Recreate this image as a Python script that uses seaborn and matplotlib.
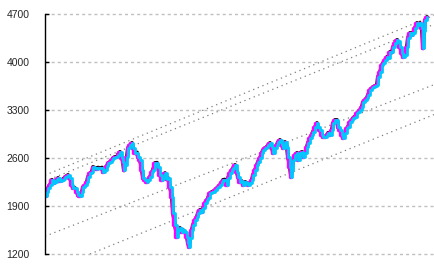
import numpy as np
import pandas as pd
import matplotlib
matplotlib.use("Agg")
import matplotlib.pyplot as plt
import seaborn as sns

# time position (chart units) and index level
t_pos = [1, 2, 3, 5, 7, 9, 10, 12, 13, 15, 17, 19, 20, 22, 23, 25, 27, 28, 30, 32,
         33, 35, 37, 38, 40, 42, 43, 45, 47, 48, 50, 52, 53, 55, 57, 58, 60, 62, 63, 65,
         67, 68, 70, 72, 73, 75, 77, 78, 79, 80, 82, 83, 85, 87, 88, 90, 92, 93, 95, 97,
         98, 100, 102, 103, 105, 107, 108, 110, 112, 113, 115, 117, 118, 120, 122, 123, 125, 127, 128, 130,
         132, 133, 135, 137, 138, 140, 142, 143, 144, 145, 147, 148, 150, 152, 153, 155, 157, 158, 160, 162,
         163, 165, 167, 168, 170, 172, 173, 175, 177, 178, 180, 182, 183, 185, 187, 188, 190, 192, 193, 195,
         197, 198, 200, 202, 203, 205, 207, 208, 210, 212, 213, 215, 217, 218, 220, 222, 223, 225, 227, 228,
         230, 232, 233, 235, 237, 238, 240, 242, 243, 245, 246, 247, 248, 250, 252, 253, 255, 257, 258, 260,
         262, 263, 265, 267, 268, 270, 272, 273, 275, 277, 278, 280, 282, 283, 285, 287, 288, 290, 292, 293,
         295, 297, 298, 300, 302, 303, 305, 307, 308, 310, 312, 313, 315, 317, 318, 320, 322, 323, 325, 327,
         328, 330, 332, 333, 335, 337, 338, 340, 342, 343, 345, 347, 348, 350, 352, 353, 355, 357, 358, 360,
         362, 363, 365, 367, 368, 370, 372, 373, 375, 377, 378, 379, 380, 382]
index_level = [2050, 2100, 2160, 2207, 2280, 2240, 2250, 2290, 2308, 2270, 2280, 2300, 2323, 2340, 2352, 2308, 2207, 2163, 2160, 2104,
               2060, 2050, 2100, 2177, 2200, 2250, 2323, 2381, 2396, 2469, 2454, 2440, 2460, 2450, 2460, 2396, 2425, 2480, 2527, 2542,
               2571, 2600, 2615, 2615, 2650, 2688, 2600, 2542, 2420, 2500, 2615, 2746, 2790, 2819, 2746, 2673, 2680, 2615, 2571, 2425,
               2308, 2280, 2250, 2280, 2323, 2396, 2425, 2527, 2530, 2469, 2352, 2280, 2308, 2380, 2290, 2308, 2177, 2031, 1800, 1623,
               1448, 1550, 1579, 1521, 1550, 1521, 1448, 1360, 1302, 1433, 1550, 1623, 1696, 1740, 1798, 1842, 1813, 1871, 1944, 1988,
               2017, 2090, 2104, 2110, 2133, 2163, 2177, 2207, 2250, 2280, 2285, 2207, 2308, 2381, 2425, 2454, 2498, 2396, 2323, 2250,
               2260, 2207, 2250, 2235, 2207, 2235, 2280, 2352, 2425, 2498, 2542, 2600, 2673, 2717, 2746, 2761, 2790, 2819, 2761, 2673,
               2746, 2790, 2833, 2863, 2790, 2746, 2833, 2761, 2615, 2469, 2330, 2425, 2570, 2644, 2673, 2571, 2673, 2688, 2615, 2673,
               2761, 2819, 2892, 2936, 2980, 3050, 3110, 3052, 3008, 2936, 2906, 2906, 2936, 2965, 2936, 3008, 3110, 3154, 3154, 3052,
               3008, 2936, 2892, 2965, 3038, 3052, 3125, 3154, 3183, 3200, 3256, 3270, 3300, 3344, 3417, 3446, 3475, 3519, 3592, 3621,
               3636, 3650, 3665, 3781, 3854, 3956, 3985, 4029, 4073, 4060, 4146, 4140, 4219, 4277, 4321, 4300, 4219, 4131, 4073, 4100,
               4219, 4350, 4423, 4400, 4423, 4496, 4569, 4540, 4569, 4496, 4200, 4450, 4613, 4656]

# dotted trend channels: start/end position and level
trend_t0 = [0, 0, 0, 45]
trend_t1 = [389, 389, 389, 389]
trend_v0 = [2349, 2262, 1459, 1200]
trend_v1 = [4680, 4549, 3669, 3233]

y_ticks = [1200, 1900, 2600, 3300, 4000, 4700]
y_labels = ["1200", "1900", "2600", "3300", "4000", "4700"]

n = min(len(t_pos), len(index_level))
df = pd.DataFrame({"t": t_pos[:n], "v": index_level[:n]})

sns.set_style("white")
plt.rcParams['font.family'] = ['Liberation Sans', 'DejaVu Sans']

fig = plt.figure(figsize=(4.35, 2.68), dpi=100)
ax = fig.add_axes([45 / 435, 1 - 254 / 268, 389 / 435, 240 / 268])

for a, b, c, d in zip(trend_t0, trend_t1, trend_v0, trend_v1):
    sns.lineplot(x=[a, b], y=[c, d], ax=ax, color="#7f7f7f", lw=0.9,
                 linestyle=(0, (1, 3)), estimator=None, sort=False)

sns.lineplot(data=df, x="t", y="v", ax=ax, color="black", lw=2.8,
             estimator=None)
sns.lineplot(data=df, x="t", y="v", ax=ax, color="#ff00ff", lw=2.4,
             drawstyle="steps-pre", estimator=None)
sns.lineplot(data=df, x="t", y="v", ax=ax, color="#00c8ff", lw=2.0,
             drawstyle="steps-post", estimator=None)

ax.set_xlim(0, 389)
ax.set_ylim(1200, 4700)
ax.set_yticks(y_ticks)
ax.set_yticklabels(y_labels)
ax.set_xticks([])
ax.set_xlabel("")
ax.set_ylabel("")

ax.yaxis.grid(True, color="#c0c0c0", linestyle=(0, (2.2, 2.2)), lw=1.0)
for gl in ax.get_ygridlines():
    gl.set_clip_on(False)
ax.set_axisbelow(True)

for s in ["top", "right", "bottom"]:
    ax.spines[s].set_visible(False)
ax.spines["left"].set_color("black")
ax.spines["left"].set_linewidth(1.0)
ax.tick_params(axis="y", direction="in", length=3, width=1, color="black",
               pad=11, labelsize=7.5, left=True)

fig.savefig("out.png", dpi=100)
